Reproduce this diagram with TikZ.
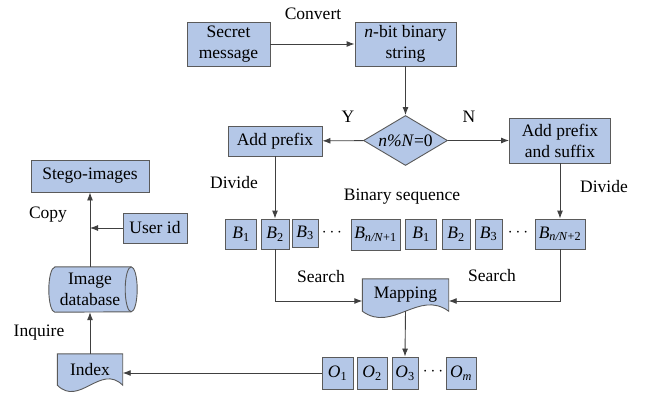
\documentclass[tikz,border=0pt]{standalone}
\usepackage{fontspec}
\setmainfont{Liberation Serif}
\usepackage{tikz}
\usetikzlibrary{shapes,arrows.meta,positioning,calc}

\definecolor{boxblue}{HTML}{B4C7E7}
\definecolor{edgegray}{HTML}{5A5A5A}
\definecolor{linegray}{HTML}{404040}

\tikzset{
    block/.style={draw=edgegray, fill=boxblue, line width=0.9pt, align=center, inner sep=1pt},
    seqbox/.style={block, minimum height=30pt, inner sep=0pt},
    outline/.style={draw=edgegray, fill=boxblue, line width=0.9pt},
    arrow/.style={draw=linegray, line width=0.9pt, -{Latex[length=8pt,width=6pt]}},
    lbl/.style={inner sep=0pt}
}

% document shape: straight top and sides, wavy bottom
\newcommand{\docbox}[2]{%
    \draw[outline]
        (#1.south west) -- (#1.north west) -- (#1.north east) -- (#1.south east)
        .. controls +(-#2,22pt) and +(#2,-22pt) .. (#1.south west) -- cycle;}

% lying drum: name, end radius, half height
\newcommand{\drumbox}[3]{%
    \draw[outline]
        ([xshift=#2]#1.north west) -- ([xshift=-#2]#1.north east)
        arc[start angle=90, end angle=-90, x radius=#2, y radius=#3]
        -- ([xshift=#2]#1.south west)
        arc[start angle=270, end angle=90, x radius=#2, y radius=#3] -- cycle;
    \draw[draw=edgegray, line width=0.9pt]
        ([xshift=-#2]#1.north east) arc[start angle=90, end angle=270, x radius=#2, y radius=#3];}

\begin{document}
\begin{tikzpicture}[x=1pt,y=-1pt,font=\fontsize{17.5}{21}\selectfont]
    \useasboundingbox (0,0) rectangle (646,394);

    % top part
    \node[block, minimum width=83pt, minimum height=44pt] (secret) at (228.5,44) {Secret\\message};
    \node[block, minimum width=101pt, minimum height=44pt] (nbit) at (405.5,44) {\textit{n}-bit binary\\string};
    \node[block, diamond, aspect=1.7, inner sep=0pt, minimum width=84pt, minimum height=50pt] (cond) at (405.5,140.5) {\textit{n\%N}=0};
    \node[block, minimum width=94pt, minimum height=30pt] (prefix) at (275,141) {Add prefix};
    \node[block, minimum width=101pt, minimum height=45pt] (presuf) at (560,140.5) {Add prefix\\and suffix};

    \node[lbl] (lconvert) at (313,14) {Convert};
    \node[lbl] (lyes) at (348,117) {Y};
    \node[lbl] (lno) at (469,117) {N};
    \node[lbl] (ldiva) at (234,183) {Divide};
    \node[lbl] (ldivb) at (604,187) {Divide};
    \node[lbl] (lseq) at (402,197) {Binary sequence};

    % binary sequence
    \node[seqbox, minimum width=31pt] (b1) at (241,234) {\textit{B}\textsubscript{1}};
    \node[seqbox, minimum width=28pt] (b2) at (275,234) {\textit{B}\textsubscript{2}};
    \node[seqbox, minimum width=26pt, minimum height=28pt] (b3) at (305,233) {\textit{B}\textsubscript{3}};
    \node[lbl] (dotsa) at (332,233) {$\cdots$};
    \node[seqbox, minimum width=49pt, minimum height=31pt] (bnna) at (375.5,234.5) {\textit{B}\textsubscript{\textit{n/N}+1}};
    \node[seqbox, minimum width=31pt] (c1) at (421,234) {\textit{B}\textsubscript{1}};
    \node[seqbox, minimum width=28pt] (c2) at (456,234) {\textit{B}\textsubscript{2}};
    \node[seqbox, minimum width=27pt] (c3) at (488.5,234) {\textit{B}\textsubscript{3}};
    \node[lbl] (dotsb) at (518,233) {$\cdots$};
    \node[seqbox, minimum width=50pt] (bnnb) at (560,234) {\textit{B}\textsubscript{\textit{n/N}+2}};

    \node[lbl] (lsearcha) at (321,277) {Search};
    \node[lbl] (lsearchb) at (492,276) {Search};

    \node[minimum width=86pt, minimum height=32pt, inner sep=0pt] (map) at (405.5,295) {};
    \docbox{map}{30pt}
    \node[lbl] (maptext) at (map) {Mapping};

    % output sequence
    \node[seqbox, minimum width=31pt, minimum height=32pt] (o1) at (337.5,373) {\textit{O}\textsubscript{1}};
    \node[seqbox, minimum width=30pt, minimum height=32pt] (o2) at (372,373) {\textit{O}\textsubscript{2}};
    \node[seqbox, minimum width=26pt, minimum height=32pt] (o3) at (405,373) {\textit{O}\textsubscript{3}};
    \node[lbl] (dotsc) at (433,372) {$\cdots$};
    \node[seqbox, minimum width=30pt, minimum height=32pt] (om) at (461,373) {\textit{O}\textsubscript{\textit{m}}};

    % left column
    \node[minimum width=65pt, minimum height=31pt, inner sep=0pt] (index) at (90,369.5) {};
    \docbox{index}{22pt}
    \node[lbl] (indextext) at (index) {Index};
    \node[minimum width=88pt, minimum height=45pt, inner sep=0pt] (imgdb) at (93,289.5) {};
    \drumbox{imgdb}{6pt}{22.5pt}
    \node[lbl, align=center] (dbtext) at (index.north |- imgdb) {Image\\database};
    \node[block, minimum width=118pt, minimum height=32pt] (stego) at (90,176) {Stego-images};
    \node[block, minimum width=64pt, minimum height=30pt] (userid) at (155,228) {User id};

    \node[lbl] (lcopy) at (48,215) {Copy};
    \node[lbl] (linquire) at (39,333) {Inquire};

    % connectors
    \draw[arrow] (secret) -- (nbit);
    \draw[arrow] (nbit) -- (cond);
    \draw[arrow] (cond) -- (prefix);
    \draw[arrow] (cond) -- (presuf);
    \draw[arrow] (prefix) -- (b2);
    \draw[arrow] (presuf) -- (bnnb);
    \draw[arrow] (b2.south) |- ([yshift=-6pt]map.west);
    \draw[arrow] (bnnb.south) |- ([yshift=-6pt]map.east);
    \draw[arrow] (map.south) -- (o3.north);
    \draw[arrow] (o1.west) -- (o1.west -| index.east);
    \draw[arrow] (index.north) -- (index.north |- imgdb.south);
    \draw[arrow] (stego.south |- imgdb.north) -- (stego.south);
    \draw[arrow] (userid.west) -- (userid.west -| stego.south);
\end{tikzpicture}
\end{document}
